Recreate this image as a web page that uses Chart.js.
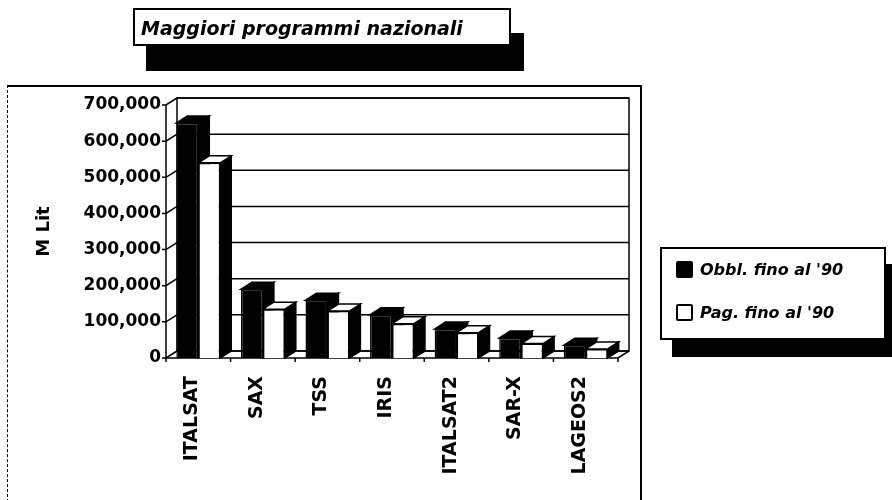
<!DOCTYPE html>
<html>
<head>
<meta charset="utf-8">
<script src="https://cdn.jsdelivr.net/npm/chart.js@4.4.0/dist/chart.umd.min.js"></script>
<style>
  body { margin: 0; background: #fff; }
  #wrap { position: relative; width: 892px; height: 500px; overflow: hidden; font-family: "DejaVu Sans", "Liberation Sans", sans-serif; }
  #frame { position: absolute; left: 7px; top: 85px; width: 632px; height: 440px; border-top: 2px solid #000; border-right: 2px solid #000; border-left: 1px dashed #000; }
  canvas { position: absolute; left: 0; top: 0; }
  .box { position: absolute; background: #fff; border: 2px solid #000; box-sizing: border-box; }
  #title { left: 133px; top: 8px; width: 378px; height: 38px; font-weight: bold; font-style: italic; font-size: 19px; line-height: 36px; padding-left: 6px; box-shadow: 13px 25px 0 #000; }
  #legend { left: 660px; top: 247px; width: 226px; height: 93px; box-shadow: 12px 17px 0 #000; font-weight: bold; font-style: italic; font-size: 16px; }
  .item { position: absolute; left: 14px; height: 20px; line-height: 20px; white-space: nowrap; }
  .sw { display: inline-block; width: 17px; height: 17px; border: 2px solid #000; border-radius: 2px; box-sizing: border-box; vertical-align: -3px; margin-right: 7px; }
</style>
</head>
<body>
<div id="wrap">
  <div id="frame"></div>
  <canvas id="chart" width="892" height="500"></canvas>
  <div id="title" class="box">Maggiori programmi nazionali</div>
  <div id="legend" class="box"></div>
</div>
<script>
// data (M Lit)
const categories = ['ITALSAT', 'SAX', 'TSS', 'IRIS', 'ITALSAT2', 'SAR-X', 'LAGEOS2'];
const seriesNames = ["Obbl. fino al '90", "Pag. fino al '90"];
const obbligato = [650000, 190000, 160000, 120000, 80000, 55000, 35000];
const pagato = [540000, 135000, 130000, 95000, 70000, 40000, 25000];
const seriesColors = ['#000000', '#ffffff'];

// legend in the side box
const legendBox = document.getElementById('legend');
seriesNames.forEach(function (name, i) {
    const item = document.createElement('div');
    item.className = 'item';
    item.style.top = (i === 0 ? 11 : 54) + 'px';
    item.innerHTML = '<span class="sw" style="background:' + seriesColors[i] + '"></span>' + name;
    legendBox.appendChild(item);
});

// depth of the 3D effect
const DX = 11, DY = -7;

const threeD = {
    id: 'threeD',
    beforeDatasetsDraw(chart) {
        const ctx = chart.ctx;
        const a = chart.chartArea;
        const yScale = chart.scales.y;
        ctx.save();
        ctx.strokeStyle = '#000';
        ctx.lineWidth = 1.5;

        // back wall and grid lines
        ctx.strokeRect(a.left + DX, a.top + DY, a.right - a.left, a.bottom - a.top);
        yScale.ticks.forEach(function (t) {
            const y = yScale.getPixelForValue(t.value);
            ctx.beginPath();
            ctx.moveTo(a.left + DX, y + DY);
            ctx.lineTo(a.right + DX, y + DY);
            ctx.moveTo(a.left - 4, y);
            ctx.lineTo(a.left, y);
            ctx.lineTo(a.left + DX, y + DY);
            ctx.stroke();
        });

        // y axis and floor
        ctx.beginPath();
        ctx.moveTo(a.left, a.top);
        ctx.lineTo(a.left, a.bottom);
        ctx.lineTo(a.right, a.bottom);
        ctx.lineTo(a.right + DX, a.bottom + DY);
        ctx.stroke();

        // category ticks under the floor
        for (let i = 0; i <= categories.length; i++) {
            const x = a.left + i * (a.right - a.left) / categories.length;
            ctx.beginPath();
            ctx.moveTo(x, a.bottom);
            ctx.lineTo(x, a.bottom + 4);
            ctx.stroke();
        }

        // side and top faces, drawn before the front faces
        for (let i = 0; i < categories.length; i++) {
            chart.data.datasets.forEach(function (ds, d) {
                const bar = chart.getDatasetMeta(d).data[i];
                const p = bar.getProps(['x', 'y', 'base', 'width'], true);
                const l = p.x - p.width / 2, r = p.x + p.width / 2;
                ctx.fillStyle = '#000';
                ctx.beginPath();
                ctx.moveTo(r, p.y);
                ctx.lineTo(r + DX, p.y + DY);
                ctx.lineTo(r + DX, p.base + DY);
                ctx.lineTo(r, p.base);
                ctx.closePath();
                ctx.fill();
                ctx.stroke();
                ctx.fillStyle = seriesColors[d];
                ctx.beginPath();
                ctx.moveTo(l, p.y);
                ctx.lineTo(r, p.y);
                ctx.lineTo(r + DX, p.y + DY);
                ctx.lineTo(l + DX, p.y + DY);
                ctx.closePath();
                ctx.fill();
                ctx.stroke();
            });
        }
        ctx.restore();
    }
};

new Chart(document.getElementById('chart'), {
    type: 'bar',
    data: {
        labels: categories,
        datasets: [
            { label: seriesNames[0], data: obbligato, backgroundColor: seriesColors[0], borderColor: '#000', borderWidth: 1.5 },
            { label: seriesNames[1], data: pagato, backgroundColor: seriesColors[1], borderColor: '#000', borderWidth: 1.5 }
        ]
    },
    options: {
        responsive: false,
        animation: false,
        layout: { padding: { top: 105, right: 274, left: 30, bottom: 0 } },
        datasets: { bar: { categoryPercentage: 0.68, barPercentage: 1.0 } },
        plugins: { legend: { display: false }, tooltip: { enabled: false } },
        scales: {
            x: {
                grid: { display: false, drawTicks: false },
                border: { display: false },
                ticks: { color: '#000', font: { family: 'DejaVu Sans', weight: 'bold', size: 19 }, minRotation: 90, maxRotation: 90, padding: 18, labelOffset: -6 },
                afterFit: function (s) { s.height = 142; }
            },
            y: {
                min: 0,
                max: 700000,
                grid: { display: false, drawTicks: false },
                border: { display: false },
                ticks: {
                    stepSize: 100000,
                    color: '#000',
                    padding: 5,
                    font: { family: 'DejaVu Sans', weight: 'bold', size: 17 },
                    callback: function (v) { return v.toLocaleString('en-US'); }
                },
                title: { display: true, text: 'M Lit', color: '#000', font: { family: 'DejaVu Sans', weight: 'bold', size: 18 } },
                afterFit: function (s) { s.width = 136; }
            }
        }
    },
    plugins: [threeD]
});
</script>
</body>
</html>
